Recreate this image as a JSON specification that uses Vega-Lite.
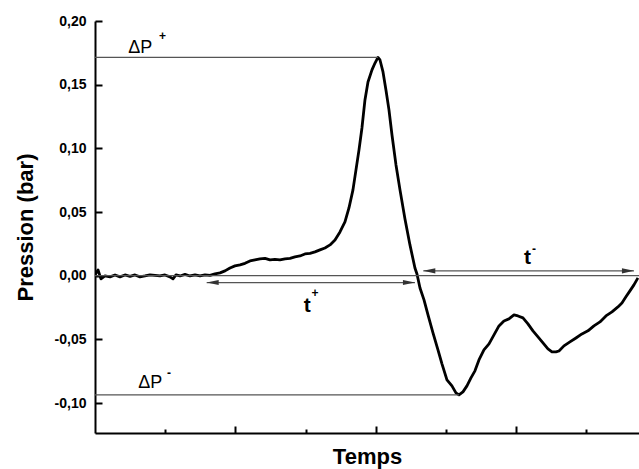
{
  "$schema": "https://vega.github.io/schema/vega-lite/v6.json",
  "width": 544,
  "height": 412,
  "autosize": {"type": "none"},
  "padding": {"left": 95, "top": 21, "right": 0, "bottom": 36},
  "background": "white",
  "config": {
    "view": {"stroke": null},
    "font": "Liberation Sans",
    "axis": {"grid": false, "labelFont": "Liberation Sans", "titleFont": "Liberation Sans", "domainColor": "black", "tickColor": "black", "labelColor": "black", "titleColor": "black"}
  },
  "datasets": {
    "curve": [
      {"x": 0.000, "y": 0.0006}, {"x": 0.043, "y": 0.0046}, {"x": 0.085, "y": -0.0025}, {"x": 0.142, "y": -0.0002},
      {"x": 0.214, "y": -0.0009}, {"x": 0.285, "y": 0.0006}, {"x": 0.356, "y": -0.0009}, {"x": 0.427, "y": 0.0006},
      {"x": 0.499, "y": -0.0005}, {"x": 0.570, "y": 0.0006}, {"x": 0.641, "y": -0.0009}, {"x": 0.712, "y": -0.0002},
      {"x": 0.783, "y": 0.0006}, {"x": 0.855, "y": 0.0002}, {"x": 0.926, "y": -0.0002}, {"x": 0.997, "y": 0.0006},
      {"x": 1.068, "y": -0.0009}, {"x": 1.111, "y": -0.0025}, {"x": 1.154, "y": 0.0006}, {"x": 1.211, "y": -0.0002},
      {"x": 1.282, "y": 0.0010}, {"x": 1.353, "y": -0.0002}, {"x": 1.425, "y": 0.0006}, {"x": 1.496, "y": -0.0002},
      {"x": 1.567, "y": 0.0006}, {"x": 1.638, "y": 0.0002}, {"x": 1.709, "y": 0.0014}, {"x": 1.781, "y": 0.0022},
      {"x": 1.852, "y": 0.0038}, {"x": 1.923, "y": 0.0061}, {"x": 1.994, "y": 0.0077}, {"x": 2.066, "y": 0.0085},
      {"x": 2.137, "y": 0.0097}, {"x": 2.208, "y": 0.0116}, {"x": 2.279, "y": 0.0124}, {"x": 2.350, "y": 0.0132},
      {"x": 2.422, "y": 0.0136}, {"x": 2.493, "y": 0.0124}, {"x": 2.564, "y": 0.0128}, {"x": 2.635, "y": 0.0124},
      {"x": 2.707, "y": 0.0132}, {"x": 2.778, "y": 0.0136}, {"x": 2.849, "y": 0.0148}, {"x": 2.920, "y": 0.0155},
      {"x": 2.991, "y": 0.0171}, {"x": 3.063, "y": 0.0175}, {"x": 3.134, "y": 0.0187}, {"x": 3.205, "y": 0.0203},
      {"x": 3.276, "y": 0.0218}, {"x": 3.348, "y": 0.0242}, {"x": 3.419, "y": 0.0281}, {"x": 3.490, "y": 0.0344},
      {"x": 3.561, "y": 0.0422}, {"x": 3.618, "y": 0.0532}, {"x": 3.675, "y": 0.0674}, {"x": 3.718, "y": 0.0831},
      {"x": 3.761, "y": 0.0988}, {"x": 3.803, "y": 0.1160}, {"x": 3.846, "y": 0.1380}, {"x": 3.889, "y": 0.1521},
      {"x": 3.946, "y": 0.1616}, {"x": 3.989, "y": 0.1670}, {"x": 4.031, "y": 0.1714}, {"x": 4.060, "y": 0.1694},
      {"x": 4.103, "y": 0.1600}, {"x": 4.145, "y": 0.1459}, {"x": 4.188, "y": 0.1302}, {"x": 4.231, "y": 0.1105},
      {"x": 4.288, "y": 0.0870}, {"x": 4.345, "y": 0.0674}, {"x": 4.416, "y": 0.0446}, {"x": 4.487, "y": 0.0242},
      {"x": 4.558, "y": 0.0061}, {"x": 4.587, "y": 0.0014}, {"x": 4.630, "y": -0.0096}, {"x": 4.687, "y": -0.0190},
      {"x": 4.744, "y": -0.0308}, {"x": 4.815, "y": -0.0449}, {"x": 4.886, "y": -0.0582}, {"x": 4.943, "y": -0.0692},
      {"x": 5.014, "y": -0.0818}, {"x": 5.085, "y": -0.0865}, {"x": 5.142, "y": -0.0920}, {"x": 5.185, "y": -0.0936},
      {"x": 5.242, "y": -0.0912}, {"x": 5.299, "y": -0.0865}, {"x": 5.356, "y": -0.0802}, {"x": 5.413, "y": -0.0747},
      {"x": 5.470, "y": -0.0661}, {"x": 5.541, "y": -0.0582}, {"x": 5.613, "y": -0.0535}, {"x": 5.684, "y": -0.0465},
      {"x": 5.755, "y": -0.0394}, {"x": 5.826, "y": -0.0355}, {"x": 5.897, "y": -0.0339}, {"x": 5.969, "y": -0.0308},
      {"x": 6.026, "y": -0.0316}, {"x": 6.097, "y": -0.0331}, {"x": 6.168, "y": -0.0378}, {"x": 6.239, "y": -0.0433},
      {"x": 6.311, "y": -0.0480}, {"x": 6.382, "y": -0.0528}, {"x": 6.453, "y": -0.0575}, {"x": 6.510, "y": -0.0598},
      {"x": 6.567, "y": -0.0598}, {"x": 6.610, "y": -0.0591}, {"x": 6.681, "y": -0.0551}, {"x": 6.766, "y": -0.0520},
      {"x": 6.852, "y": -0.0489}, {"x": 6.937, "y": -0.0457}, {"x": 7.023, "y": -0.0433}, {"x": 7.108, "y": -0.0394},
      {"x": 7.194, "y": -0.0363}, {"x": 7.279, "y": -0.0316}, {"x": 7.365, "y": -0.0284}, {"x": 7.450, "y": -0.0245},
      {"x": 7.507, "y": -0.0214}, {"x": 7.564, "y": -0.0166}, {"x": 7.621, "y": -0.0119}, {"x": 7.678, "y": -0.0072},
      {"x": 7.735, "y": -0.0017}
    ],
    "lines": [
      {"x": 0, "x2": 4.031, "y": 0.1715},
      {"x": 0, "x2": 5.185, "y": -0.0936},
      {"x": 0, "x2": 7.75, "y": 0.0},
      {"x": 1.591, "x2": 4.558, "y": -0.0054},
      {"x": 4.677, "x2": 7.678, "y": 0.0038}
    ],
    "arrows": [
      {"x": 1.591, "y": -0.0054, "dir": "left"},
      {"x": 4.558, "y": -0.0054, "dir": "right"},
      {"x": 4.677, "y": 0.0038, "dir": "left"},
      {"x": 7.678, "y": 0.0038, "dir": "right"}
    ],
    "dp": [
      {"x": 0.474, "y": 0.1751, "label": "ΔP"},
      {"x": 0.617, "y": -0.0883, "label": "ΔP"}
    ],
    "tt": [
      {"x": 3.023, "y": -0.0282, "label": "t"},
      {"x": 6.161, "y": 0.0090, "label": "t"}
    ],
    "sup": [
      {"x": 0.962, "y": 0.1886, "label": "+"},
      {"x": 1.054, "y": -0.0763, "label": "-"},
      {"x": 3.134, "y": -0.0137, "label": "+"},
      {"x": 6.254, "y": 0.0210, "label": "-"}
    ]
  },
  "layer": [
    {
      "data": {"name": "curve"},
      "mark": {"type": "line", "color": "black", "strokeWidth": 2.8, "strokeJoin": "round", "clip": true},
      "encoding": {
        "x": {
          "field": "x", "type": "quantitative",
          "scale": {"domain": [0, 7.75], "nice": false, "zero": false},
          "axis": {
            "title": "Temps", "titleFontSize": 22, "titleFontWeight": "bold", "titlePadding": 12,
            "values": [1, 2, 3, 4, 5, 6, 7], "labels": false,
            "domainWidth": 2, "tickWidth": 2,
            "tickSize": {"condition": {"test": "datum.value % 2 === 0", "value": -7}, "value": -4}
          }
        },
        "y": {
          "field": "y", "type": "quantitative",
          "scale": {"domain": [-0.1235, 0.2], "nice": false, "zero": false},
          "axis": {
            "title": "Pression (bar)", "titleFontSize": 22, "titleFontWeight": "bold", "titlePadding": 17,
            "values": [-0.1, -0.075, -0.05, -0.025, 0, 0.025, 0.05, 0.075, 0.1, 0.125, 0.15, 0.175, 0.2],
            "labelExpr": "abs(round(datum.value * 40)) % 2 !== 0 ? '' : (datum.value < -0.001 ? '-' : '') + replace(format(abs(datum.value), '.2f'), '.', ',')",
            "labelFontSize": 14, "labelFontWeight": "bold", "labelPadding": 16,
            "domainWidth": 2, "tickWidth": 2,
            "tickSize": {"condition": {"test": "abs(round(datum.value * 40)) % 2 === 0", "value": -7}, "value": -4}
          }
        }
      }
    },
    {
      "data": {"name": "lines"},
      "mark": {"type": "rule", "color": "#555555", "strokeWidth": 1.2},
      "encoding": {
        "x": {"field": "x", "type": "quantitative"},
        "x2": {"field": "x2"},
        "y": {"field": "y", "type": "quantitative"}
      }
    },
    {
      "data": {"name": "arrows"},
      "mark": {"type": "point", "filled": true, "opacity": 1, "color": "#333333", "size": 144, "strokeWidth": 0},
      "encoding": {
        "x": {"field": "x", "type": "quantitative"},
        "y": {"field": "y", "type": "quantitative"},
        "shape": {"condition": {"test": "datum.dir === 'left'", "value": "M0,0L2,-0.42L2,0.42Z"}, "value": "M0,0L-2,-0.42L-2,0.42Z"}
      }
    },
    {
      "data": {"name": "dp"},
      "mark": {"type": "text", "align": "left", "baseline": "alphabetic", "fontSize": 18, "font": "Liberation Sans", "color": "black"},
      "encoding": {
        "x": {"field": "x", "type": "quantitative"},
        "y": {"field": "y", "type": "quantitative"},
        "text": {"field": "label"}
      }
    },
    {
      "data": {"name": "tt"},
      "mark": {"type": "text", "align": "center", "baseline": "alphabetic", "fontSize": 21, "fontWeight": "bold", "font": "Liberation Sans", "color": "black"},
      "encoding": {
        "x": {"field": "x", "type": "quantitative"},
        "y": {"field": "y", "type": "quantitative"},
        "text": {"field": "label"}
      }
    },
    {
      "data": {"name": "sup"},
      "mark": {"type": "text", "align": "center", "baseline": "middle", "fontSize": 12, "fontWeight": "bold", "font": "Liberation Sans", "color": "black"},
      "encoding": {
        "x": {"field": "x", "type": "quantitative"},
        "y": {"field": "y", "type": "quantitative"},
        "text": {"field": "label"}
      }
    }
  ]
}
